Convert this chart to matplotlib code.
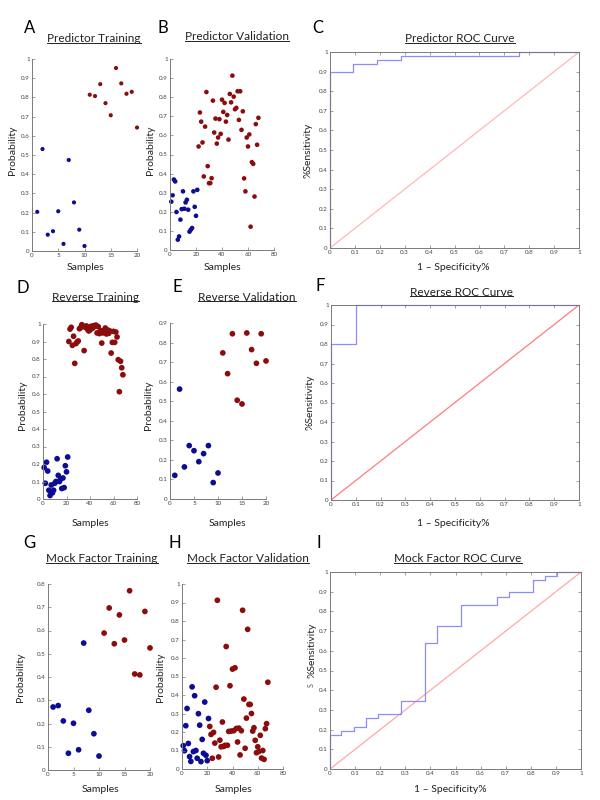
import numpy as np
import matplotlib
matplotlib.use("Agg")
import matplotlib.pyplot as plt
from matplotlib.lines import Line2D
from matplotlib.ticker import FuncFormatter, MultipleLocator

plt.rcParams['font.family'] = ['Lato', 'DejaVu Sans']

# ---- data ----
# A: predictor training
a_blue = [0.204, 0.531, 0.085, 0.103, 0.207, 0.037, 0.474, 0.253, 0.111, 0.026]
a_red = [0.814, 0.807, 0.869, 0.770, 0.707, 0.953, 0.873, 0.819, 0.829, 0.643]
# B: predictor validation
b_blue = [0.253, 0.287, 0.369, 0.359, 0.199, 0.054, 0.071, 0.159, 0.214, 0.307, 0.216,
          0.249, 0.263, 0.211, 0.096, 0.106, 0.115, 0.307, 0.226, 0.179, 0.315]
b_red = [0.542, 0.720, 0.672, 0.563, 0.385, 0.646, 0.827, 0.439, 0.350, 0.350, 0.376,
         0.782, 0.615, 0.688, 0.557, 0.589, 0.685, 0.608, 0.787, 0.723, 0.770, 0.672,
         0.707, 0.578, 0.817, 0.773, 0.913, 0.803, 0.737, 0.744, 0.831, 0.681, 0.831,
         0.629, 0.726, 0.375, 0.307, 0.589, 0.542, 0.605, 0.122, 0.460, 0.451, 0.280,
         0.659, 0.551, 0.692]
# C: predictor ROC
c_fpr = [0, 0, 0.094, 0.19, 0.284, 0.761, 1]
c_tpr = [0, 0.896, 0.939, 0.959, 0.98, 1, 1]
# D: reverse training
d_blue = [0.18, 0.09, 0.21, 0.16, 0.05, 0.02, 0.08, 0.035, 0.05, 0.09, 0.10,
          0.23, 0.135, 0.10, 0.115, 0.06, 0.12, 0.065, 0.19, 0.155, 0.24]
d_red = [0.900, 0.971, 0.981, 0.878, 0.930, 0.775, 0.888, 0.897, 0.903, 0.973, 0.979,
         0.996, 0.989, 0.848, 0.981, 0.989, 0.968, 0.960, 0.966, 0.987, 0.975, 0.990,
         0.985, 0.994, 0.949, 0.985, 0.945, 0.962, 0.891, 0.949, 0.964, 0.977, 0.943,
         0.966, 0.947, 0.960, 0.834, 0.895, 0.958, 0.895, 0.954, 0.926, 0.796, 0.613,
         0.787, 0.750, 0.710]
# E: reverse validation
e_blue = [0.121, 0.562, 0.164, 0.273, 0.247, 0.191, 0.232, 0.273, 0.084, 0.133]
e_red = [0.747, 0.641, 0.845, 0.505, 0.486, 0.849, 0.764, 0.694, 0.845, 0.706]
# F: reverse ROC
f_fpr = [0, 0, 0.1, 1]
f_tpr = [0, 0.8, 1, 1]
# G: mock factor training
g_blue = [0.271, 0.277, 0.211, 0.072, 0.201, 0.087, 0.546, 0.257, 0.156, 0.060]
g_red = [0.589, 0.697, 0.543, 0.667, 0.559, 0.771, 0.413, 0.409, 0.682, 0.525]
# H: mock factor validation
h_blue = [0.126, 0.099, 0.234, 0.327, 0.138, 0.067, 0.041, 0.444, 0.094, 0.396, 0.100,
          0.058, 0.299, 0.237, 0.040, 0.160, 0.085, 0.362, 0.074, 0.045, 0.273]
h_red = [0.230, 0.187, 0.058, 0.198, 0.140, 0.442, 0.912, 0.065, 0.156, 0.120, 0.254,
         0.122, 0.128, 0.662, 0.128, 0.203, 0.450, 0.205, 0.540, 0.207, 0.547, 0.219,
         0.146, 0.221, 0.076, 0.207, 0.858, 0.378, 0.112, 0.275, 0.755, 0.349, 0.349,
         0.300, 0.205, 0.223, 0.155, 0.088, 0.120, 0.095, 0.182, 0.059, 0.100, 0.052,
         0.218, 0.245, 0.469]
# I: mock factor ROC
i_fpr = [0, 0, 0.045, 0.094, 0.142, 0.19, 0.284, 0.38, 0.428, 0.523, 0.665, 0.712,
         0.809, 0.857, 0.904, 1]
i_tpr = [0, 0.171, 0.193, 0.215, 0.257, 0.279, 0.343, 0.642, 0.726, 0.833, 0.875,
         0.897, 0.958, 0.981, 1, 1]

BLUE = '#0c0c94'
RED = '#8a0c0c'
ROC_BLUE = '#8c8cff'
W, H = 600, 800

fig = plt.figure(figsize=(6, 8), dpi=100)


def px_axes(l, r, t, b):
    return fig.add_axes([l / W, 1 - b / H, (r - l) / W, (b - t) / H])


def fmt(v, pos):
    return '%g' % round(v, 2)


def style(ax, box):
    for s in ax.spines.values():
        s.set_color('#7a7a7a')
        s.set_linewidth(0.7)
    if not box:
        ax.spines['top'].set_visible(False)
        ax.spines['right'].set_visible(False)
    ax.tick_params(direction='in', length=2, width=0.5, labelsize=4.5,
                   colors='#7a7a7a', labelcolor='#444444', pad=1.5,
                   top=box, right=box)
    ax.xaxis.set_major_formatter(FuncFormatter(fmt))
    ax.yaxis.set_major_formatter(FuncFormatter(fmt))


def scatter_panel(pos, blue, red, xmax, xstep, ymax, size):
    ax = px_axes(*pos)
    nb = len(blue)
    xb = np.arange(1, nb + 1)
    xr = np.arange(nb + 1, nb + len(red) + 1)
    ax.scatter(xb, blue, s=size, color=BLUE, edgecolors='none', clip_on=False)
    ax.scatter(xr, red, s=size, color=RED, edgecolors='none', clip_on=False)
    ax.set_xlim(0, xmax)
    ax.set_ylim(0, ymax)
    ax.xaxis.set_major_locator(MultipleLocator(xstep))
    ax.yaxis.set_major_locator(MultipleLocator(0.1))
    style(ax, False)
    return ax


def roc_panel(pos, fpr, tpr, diag_color):
    ax = px_axes(*pos)
    ax.plot([0, 1], [0, 1], color=diag_color, lw=0.9)
    ax.step(fpr, tpr, where='post', color=ROC_BLUE, lw=0.9, clip_on=False)
    ax.set_xlim(0, 1)
    ax.set_ylim(0, 1)
    ax.xaxis.set_major_locator(MultipleLocator(0.1))
    ax.yaxis.set_major_locator(MultipleLocator(0.1))
    style(ax, True)
    return ax


scatter_panel((32, 137, 59, 251), a_blue, a_red, 20, 5, 1, 9)
scatter_panel((170, 274, 59, 250), b_blue, b_red, 80, 20, 1, 11)
roc_panel((330, 579, 52, 248), c_fpr, c_tpr, '#ffb8b8')
scatter_panel((43, 137, 324, 499), d_blue, d_red, 80, 20, 1, 17)
scatter_panel((170, 266, 323, 499), e_blue, e_red, 20, 5, 0.9, 17)
roc_panel((331, 579, 305, 500), f_fpr, f_tpr, '#ff7c7c')
scatter_panel((48, 150, 584, 770), g_blue, g_red, 20, 5, 0.8, 17)
scatter_panel((182, 283, 584, 769), h_blue, h_red, 80, 20, 1, 17)
roc_panel((330, 581, 572, 769), i_fpr, i_tpr, '#ffa8a8')


def ftext(x, y, s, **kw):
    return fig.text(x / W, 1 - y / H, s, ha='center', va='center', **kw)


letters = [('A', 30, 28), ('B', 163, 28), ('C', 318, 28),
           ('D', 23, 288), ('E', 177, 287), ('F', 320, 286),
           ('G', 29, 543), ('H', 175, 543), ('I', 319, 543)]
for s, x, y in letters:
    ftext(x, y, s, fontsize=12)

titles = [('Predictor Training', 94, 39), ('Predictor Validation', 237, 37),
          ('Predictor ROC Curve', 460, 39),
          ('Reverse Training', 95, 297), ('Reverse Validation', 247, 297),
          ('Reverse ROC Curve', 461, 292),
          ('Mock Factor Training', 102, 559), ('Mock Factor Validation', 248, 559),
          ('Mock Factor ROC Curve', 458, 559)]
title_txt = [ftext(x, y, s, fontsize=8.5, color='#222222') for s, x, y in titles]

ylabels = [('Probability', 12, 150), ('Probability', 151, 150), ('%Sensitivity', 308, 150),
           ('Probability', 22, 405), ('Probability', 149, 405), ('%Sensitivity', 310, 402),
           ('Probability', 20, 677), ('Probability', 161, 677), ('%Sensitivity', 312, 650)]
for s, x, y in ylabels:
    ftext(x, y, s, fontsize=7.5, rotation=90, color='#222222')
ftext(311, 685, 'S', fontsize=5, rotation=90, color='#555555')

xlabels = [('Samples', 85, 268), ('Samples', 222, 268), ('1 \u2013 Specificity%', 453, 267),
           ('Samples', 90, 523), ('Samples', 227, 523), ('1 \u2013 Specificity%', 453, 523),
           ('Samples', 100, 789), ('Samples', 233, 789), ('1 \u2013 Specificity%', 450, 789)]
for s, x, y in xlabels:
    ftext(x, y, s, fontsize=7.5, color='#222222')

# underline the titles
fig.canvas.draw()
rend = fig.canvas.get_renderer()
inv = fig.transFigure.inverted()
for t in title_txt:
    bb = t.get_window_extent(rend)
    (x0, y0), (x1, _) = inv.transform([(bb.x0, bb.y0 + 1.5), (bb.x1, bb.y0 + 1.5)])
    fig.add_artist(Line2D([x0, x1], [y0, y0], transform=fig.transFigure,
                          color='#222222', lw=0.7))

fig.savefig('out.png', dpi=100)
